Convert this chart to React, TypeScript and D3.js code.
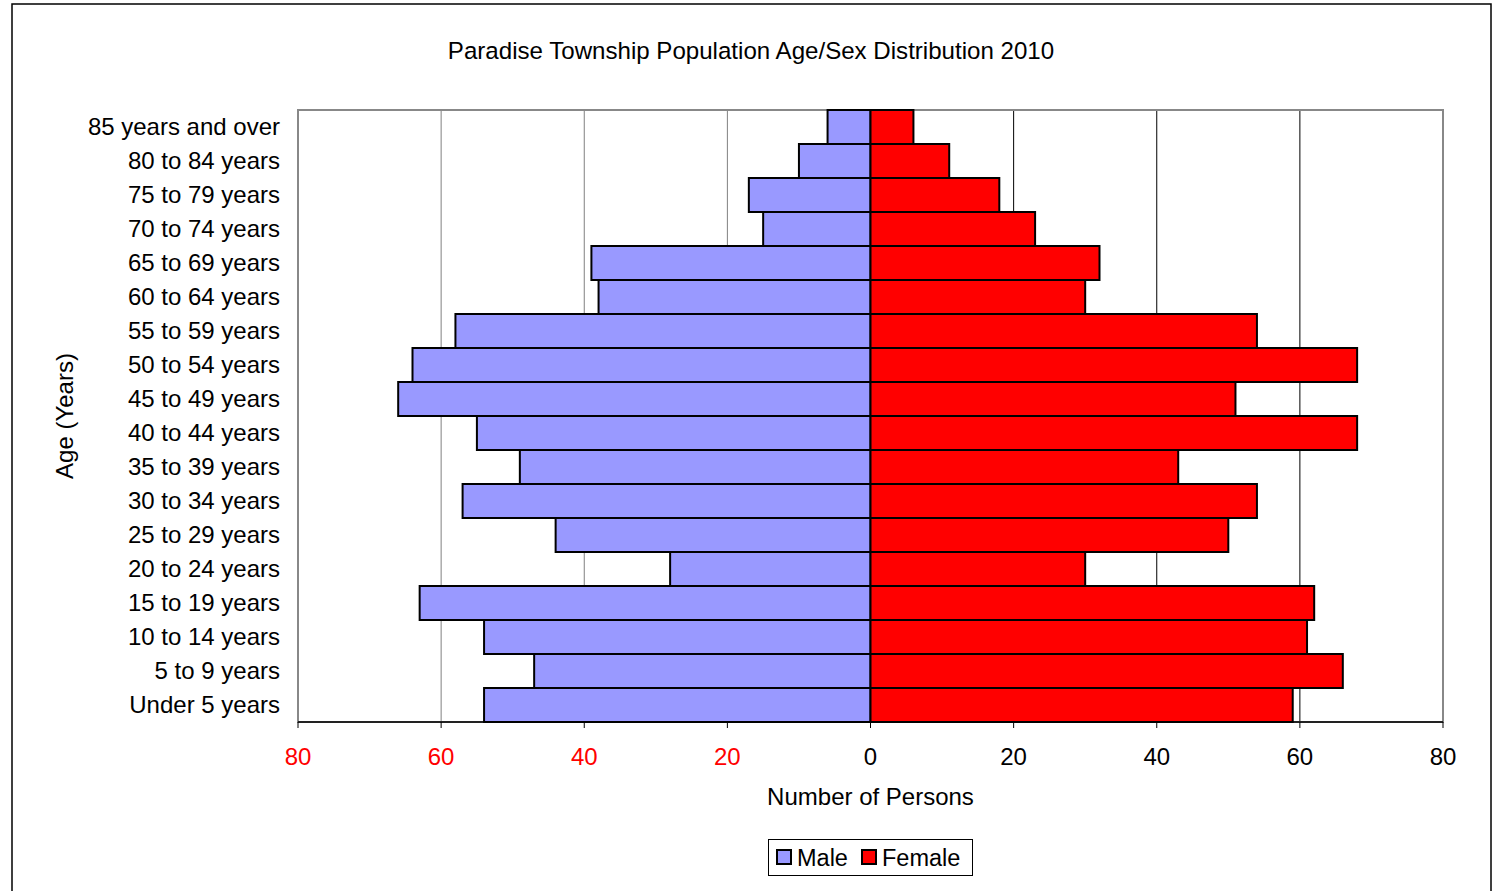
import React from "react";
import * as d3 from "d3";

const categories = [
  "85 years and over", "80 to 84 years", "75 to 79 years", "70 to 74 years",
  "65 to 69 years", "60 to 64 years", "55 to 59 years", "50 to 54 years",
  "45 to 49 years", "40 to 44 years", "35 to 39 years", "30 to 34 years",
  "25 to 29 years", "20 to 24 years", "15 to 19 years", "10 to 14 years",
  "5 to 9 years", "Under 5 years",
];
const male = [6, 10, 17, 15, 39, 38, 58, 64, 66, 55, 49, 57, 44, 28, 63, 54, 47, 54];
const female = [6, 11, 18, 23, 32, 30, 54, 68, 51, 68, 43, 54, 50, 30, 62, 61, 66, 59];
const ticks = [-80, -60, -40, -20, 0, 20, 40, 60, 80];
const tickLabels = ["80", "60", "40", "20", "0", "20", "40", "60", "80"];

const FONT = "Liberation Sans, Arial, sans-serif";

export default function App() {
  const W = 1495, H = 891;
  const left = 298, right = 1443, top = 110, bottom = 722;
  const x = d3.scaleLinear().domain([-80, 80]).range([left, right]);
  const y = d3.scaleBand().domain(categories).range([top, bottom]).padding(0);
  const bw = y.bandwidth();

  return (
    <svg width={W} height={H} style={{ position: "absolute", left: 0, top: 0, display: "block" }} fontFamily={FONT}>
      <rect x={0} y={0} width={W} height={H} fill="#fff" />
      <rect x={12} y={4} width={1479} height={H + 10} fill="#fff" stroke="#000" strokeWidth={1.5} />
      <text x={751} y={59} textAnchor="middle" fontSize={24.1} fill="#000">
        Paradise Township Population Age/Sex Distribution 2010
      </text>

      {/* gridlines */}
      {ticks.filter((t) => t !== 0 && Math.abs(t) !== 80).map((t) => (
        <line key={"g" + t} x1={x(t)} x2={x(t)} y1={top} y2={bottom}
          stroke={t < 0 ? "#808080" : "#000"} strokeWidth={1} />
      ))}

      {/* plot border */}
      <rect x={left} y={top} width={right - left} height={bottom - top} fill="none" stroke="#888" strokeWidth={2} />

      {/* bars */}
      {categories.map((c, i) => (
        <g key={c}>
          <rect x={x(-male[i])} y={y(c)!} width={x(0) - x(-male[i])} height={bw}
            fill="#9999FF" stroke="#000" strokeWidth={2} />
          <rect x={x(0)} y={y(c)!} width={x(female[i]) - x(0)} height={bw}
            fill="#FF0000" stroke="#000" strokeWidth={2} />
        </g>
      ))}

      {/* x axis */}
      <line x1={left} x2={right} y1={bottom} y2={bottom} stroke="#000" strokeWidth={1.5} />
      {ticks.map((t, i) => (
        <g key={"t" + t}>
          <line x1={x(t)} x2={x(t)} y1={bottom} y2={bottom + 6} stroke="#000" strokeWidth={1} />
          <text x={x(t)} y={764.5} textAnchor="middle" fontSize={24} fill={t < 0 ? "#FF0000" : "#000"}>
            {tickLabels[i]}
          </text>
        </g>
      ))}
      <text x={x(0)} y={805} textAnchor="middle" fontSize={24} fill="#000">Number of Persons</text>

      {/* y labels */}
      {categories.map((c) => (
        <text key={"l" + c} x={280} y={y(c)! + bw / 2 + 7.5} textAnchor="end" fontSize={24} fill="#000">{c}</text>
      ))}
      <text transform={`translate(73,416) rotate(-90)`} textAnchor="middle" fontSize={24} fill="#000">Age (Years)</text>

      {/* legend */}
      <rect x={768.5} y={839.5} width={204} height={36} fill="#fff" stroke="#000" strokeWidth={1} />
      <rect x={777} y={850} width={14} height={14} fill="#9999FF" stroke="#000" strokeWidth={2} />
      <text x={797} y={866} fontSize={23.5} fill="#000">Male</text>
      <rect x={862} y={850} width={14} height={14} fill="#FF0000" stroke="#000" strokeWidth={2} />
      <text x={882} y={866} fontSize={23.5} fill="#000">Female</text>
    </svg>
  );
}
